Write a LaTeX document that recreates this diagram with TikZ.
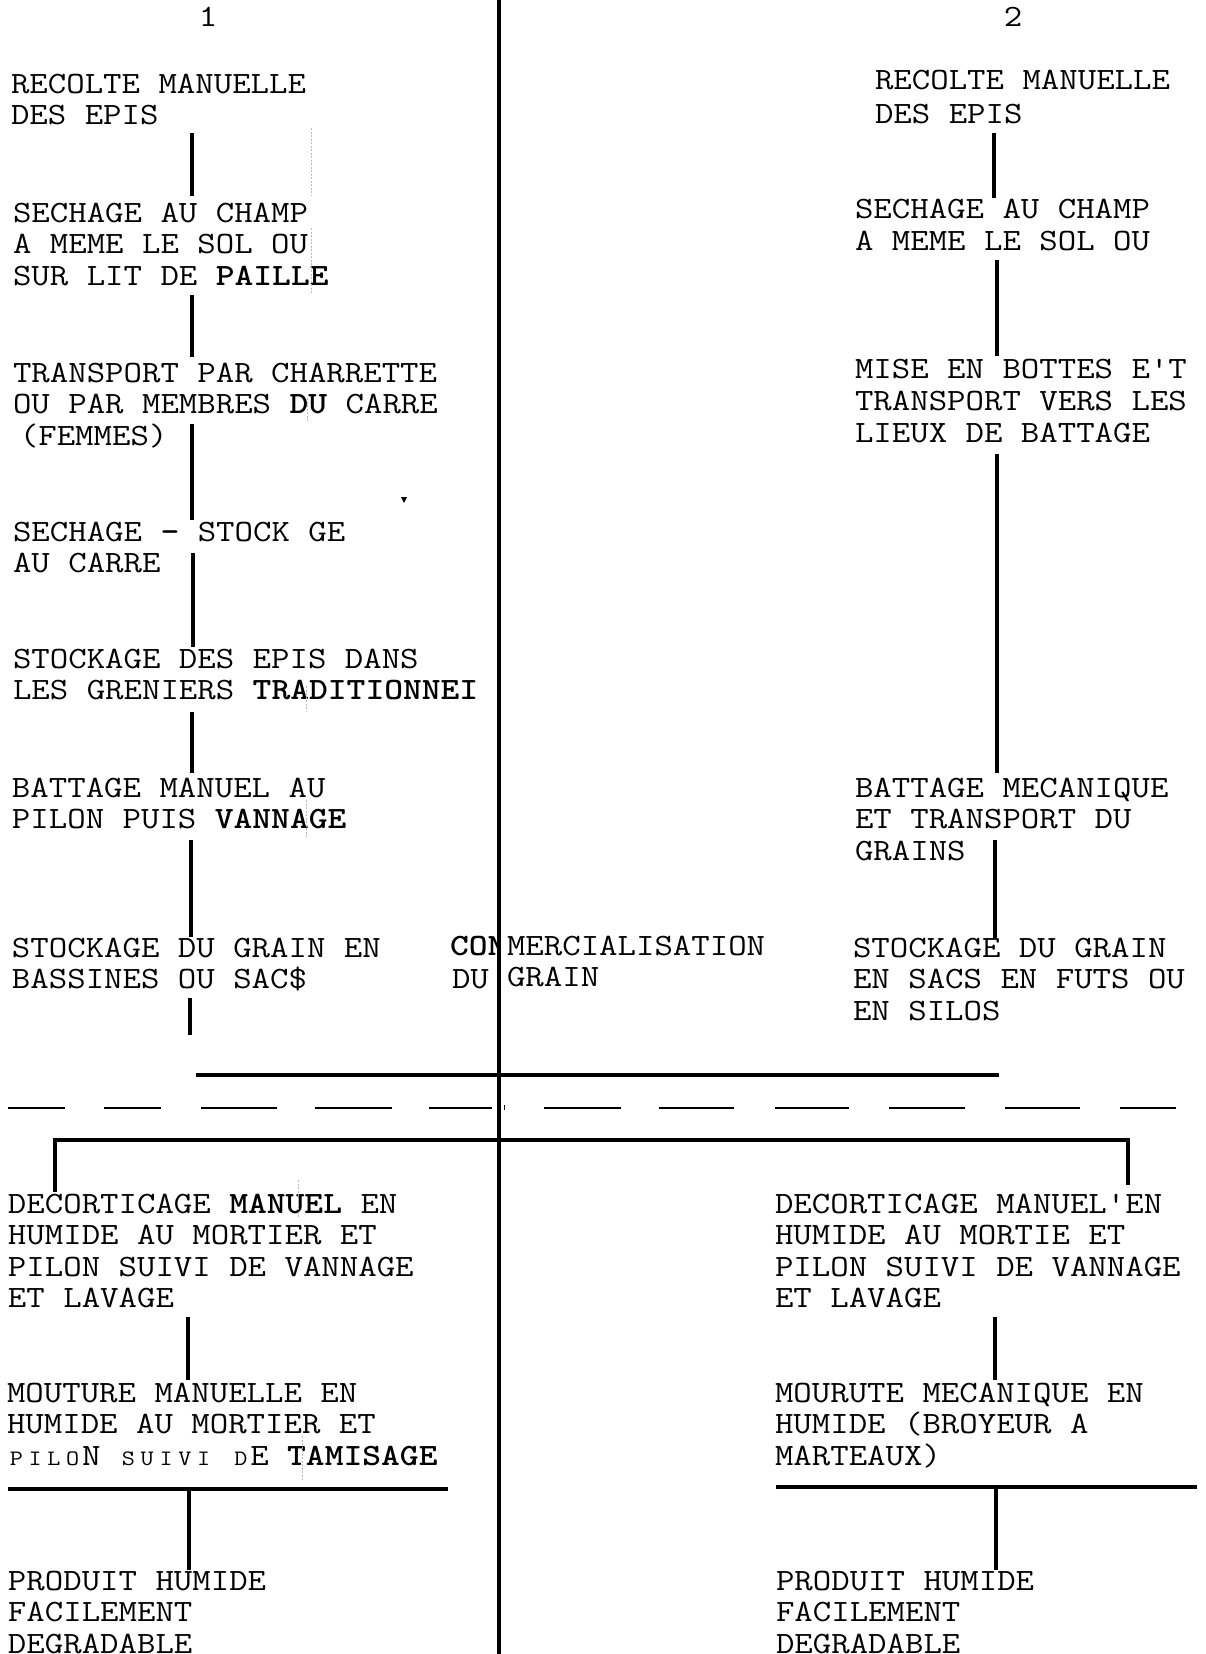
\documentclass[tikz,border=0pt]{standalone}
\usepackage{graphicx}
\usetikzlibrary{calc}
\newcommand{\Ln}[1]{\hbox{#1}}
\newcommand{\blk}[2][31.5pt]{\scalebox{1.155}[1]{\vtop{\fontsize{31}{#1}\selectfont\ttfamily\baselineskip=#1\relax\lineskiplimit=-1000pt\lineskip=0pt #2}}}
\newcommand{\smch}[1]{\makebox[0.525em][c]{\fontsize{22}{22}\selectfont #1}}
\tikzset{
  txt/.style={anchor=base west, inner sep=0pt, outer sep=0pt},
  conn/.style={line width=3.2pt},
  spine/.style={line width=4pt},
  rulel/.style={line width=3.4pt},
  dsh/.style={line width=2.8pt},
  artf/.style={gray!55, line width=0.7pt, dash pattern=on 2pt off 1.5pt}
}
\begin{document}
\begin{tikzpicture}[x=1pt,y=-1pt]
\useasboundingbox (0,0) rectangle (1205,1654);
\fill[white] (0,0) rectangle (1205,1654);

% column numbers
\node[txt, anchor=base] (n1) at (208,27) {\blk{\Ln{1}}};
\node[txt, anchor=base] (n2) at (1013,27) {\blk{\Ln{2}}};

% left column
\node[txt] (a1) at (11,93) {\blk{\Ln{RECOLTE MANUELLE}\Ln{DES EPIS}}};
\node[txt] (a2) at (13,222) {\blk{\Ln{SECHAGE AU CHAMP}\Ln{A MEME LE SOL OU}\Ln{SUR LIT DE {\bfseries PAILLE}}}};
\node[txt] (a3) at (13,382) {\blk{\Ln{TRANSPORT PAR CHARRETTE}\Ln{OU PAR MEMBRES {\bfseries DU} CARRE}\Ln{\hspace{6pt}(FEMMES)}}};
\node[txt] (a4) at (13,541) {\blk{\Ln{SECHAGE {\bfseries -} STOCK GE}\Ln{AU CARRE}}};
\node[txt] (a5) at (13,668) {\blk{\Ln{STOCKAGE DES EPIS DANS}\Ln{LES GRENIERS {\bfseries TRADITIONNEI}}}};
\node[txt] (a6) at (12,797) {\blk{\Ln{BATTAGE MANUEL AU}\Ln{PILON PUIS {\bfseries VANNAGE}}}};
\node[txt] (a7) at (12,957) {\blk{\Ln{STOCKAGE DU GRAIN EN}\Ln{BASSINES OU SAC\$}}};

% middle
\begin{scope}
\clip (440,900) rectangle (497.5,1000);
\node[txt] (m1) at (450,955) {\blk{\Ln{\bfseries CON}}};
\end{scope}
\node[txt] (m2) at (507,955) {\blk{\Ln{MERCIALISATION}\Ln{GRAIN}}};
\node[txt] (m3) at (452,988) {\blk{\Ln{DU}}};

% right column
\node[txt] (r1) at (875,89) {\blk[34pt]{\Ln{RECOLTE MANUELLE}\Ln{DES EPIS}}};
\node[txt] (r2) at (855,218) {\blk[32pt]{\Ln{SECHAGE AU CHAMP}\Ln{A MEME LE SOL OU}}};
\node[txt] (r3) at (855,378) {\blk[32pt]{\Ln{MISE EN BOTTES E'T}\Ln{TRANSPORT VERS LES}\Ln{LIEUX DE BATTAGE}}};
\node[txt] (r4) at (855,797) {\blk{\Ln{BATTAGE MECANIQUE}\Ln{ET TRANSPORT DU}\Ln{GRAINS}}};
\node[txt] (r5) at (853,957) {\blk{\Ln{STOCKAGE DU GRAIN}\Ln{EN SACS EN FUTS OU}\Ln{EN SILOS}}};

% lower part
\node[txt] (b1) at (8,1213) {\blk{\Ln{DECORTICAGE {\bfseries MANUEL} EN}\Ln{HUMIDE AU MORTIER ET}\Ln{PILON SUIVI DE VANNAGE}\Ln{ET LAVAGE}}};
\node[txt] (b2) at (775,1213) {\blk{\Ln{DECORTICAGE MANUEL'EN}\Ln{HUMIDE AU MORTIE ET}\Ln{PILON SUIVI DE VANNAGE}\Ln{ET LAVAGE}}};
\node[txt] (b3) at (7,1402) {\blk{\Ln{MOUTURE MANUELLE EN}\Ln{HUMIDE AU MORTIER ET}\Ln{\smch{P}\smch{I}\smch{L}\smch{O}N \smch{S}\smch{U}\smch{I}\smch{V}\smch{I} \smch{D}E {\bfseries TAMISAGE}}}};
\node[txt] (b4) at (775,1402) {\blk{\Ln{MOURUTE MECANIQUE EN}\Ln{HUMIDE (BROYEUR A}\Ln{MARTEAUX)}}};
\node[txt] (p1) at (8,1590) {\blk{\Ln{PRODUIT HUMIDE}\Ln{FACILEMENT}\Ln{DEGRADABLE}}};
\node[txt] (p2) at (776,1590) {\blk{\Ln{PRODUIT HUMIDE}\Ln{FACILEMENT}\Ln{DEGRADABLE}}};

% spine
\coordinate (top) at (499,0);
\coordinate (bot) at (499,1654);
\draw[spine] (top) -- (bot);

% connector x positions
\coordinate (k1) at (192,0);
\coordinate (k2) at (192,0);
\coordinate (k3) at (192,0);
\coordinate (k4) at (193,0);
\coordinate (k5) at (192,0);
\coordinate (k6) at (191,0);
\coordinate (k7) at (190,0);
\coordinate (k8) at (188,0);
\coordinate (k9) at (189,0);
\coordinate (q1) at (994,0);
\coordinate (q2) at (997,0);
\coordinate (q3) at (997,0);
\coordinate (q4) at (995,0);
\coordinate (q5) at (995,0);
\coordinate (q6) at (996,0);

% left column connectors
\draw[conn] ($(a1.base -| k1)+(0,40)$) -- ($(a2.base -| k1)+(0,-26)$);
\draw[conn] ($(a2.base -| k2)+(0,73)$) -- ($(a3.base -| k2)+(0,-25)$);
\draw[conn] ($(a3.base -| k3)+(0,42)$) -- ($(a4.base -| k3)+(0,-21)$);
\draw[conn] ($(a4.base -| k4)+(0,12)$) -- ($(a5.base -| k4)+(0,-21)$);
\draw[conn] ($(a5.base -| k5)+(0,44)$) -- ($(a6.base -| k5)+(0,-24)$);
\draw[conn] ($(a6.base -| k6)+(0,43)$) -- ($(a7.base -| k6)+(0,-20)$);
\coordinate (e7) at (190,1035);
\draw[conn] ($(a7.base -| k7)+(0,41)$) -- (e7);

% right column connectors
\draw[conn] ($(r1.base -| q1)+(0,44)$) -- ($(r2.base -| q1)+(0,-20)$);
\draw[conn] ($(r2.base -| q2)+(0,42)$) -- ($(r3.base -| q2)+(0,-22)$);
\draw[conn] ($(r3.base -| q3)+(0,76)$) -- ($(r4.base -| q3)+(0,-24)$);
\draw[conn] ($(r4.base -| q4)+(0,43)$) -- ($(r5.base -| q4)+(0,-19)$);

% horizontal rules
\coordinate (h1a) at (196,1075);
\coordinate (h1b) at (999,1075);
\draw[rulel] (h1a) -- (h1b);

\foreach \a/\b in {8/65,104/161,201/277,315/392,429/492,544/621,659/734,775/849,889/965,1005/1080,1120/1176}
  \draw[dsh] (\a,1108) -- (\b,1108);
\draw[line width=1pt] (504,1105) -- (504,1110);

\coordinate (lx) at (55,1140);
\coordinate (rx) at (1128,1140);
\draw[rulel] ($(b1.base -| lx)+(0,-21)$) -- (lx) -- (rx) -- ($(b2.base -| rx)+(0,-28)$);

% lower connectors
\draw[conn] ($(b1.base -| k8)+(0,104)$) -- ($(b3.base -| k8)+(0,-22)$);
\draw[conn] ($(b2.base -| q5)+(0,104)$) -- ($(b4.base -| q5)+(0,-22)$);

\coordinate (l1a) at (8,1489);
\coordinate (l1b) at (448,1489);
\draw[rulel] (l1a) -- (l1b);
\draw[conn] (k9 |- l1a) -- ($(p1.base -| k9)+(0,-20)$);

\coordinate (l2a) at (776,1487);
\coordinate (l2b) at (1197,1487);
\draw[rulel] (l2a) -- (l2b);
\draw[conn] (q6 |- l2a) -- ($(p2.base -| q6)+(0,-20)$);

% small specks and faint scan marks
\fill (401,497) -- (407,497) -- (404,503) -- cycle;
\draw[artf] (311,128) -- (311,195);
\draw[artf] (311,228) -- (311,293);
\draw[artf] (307,398) -- (307,422);
\draw[artf] (306,686) -- (306,712);
\draw[artf] (306,800) -- (306,838);
\draw[artf] (298,1180) -- (298,1218);
\draw[artf] (302,1436) -- (302,1480);
\end{tikzpicture}
\end{document}
